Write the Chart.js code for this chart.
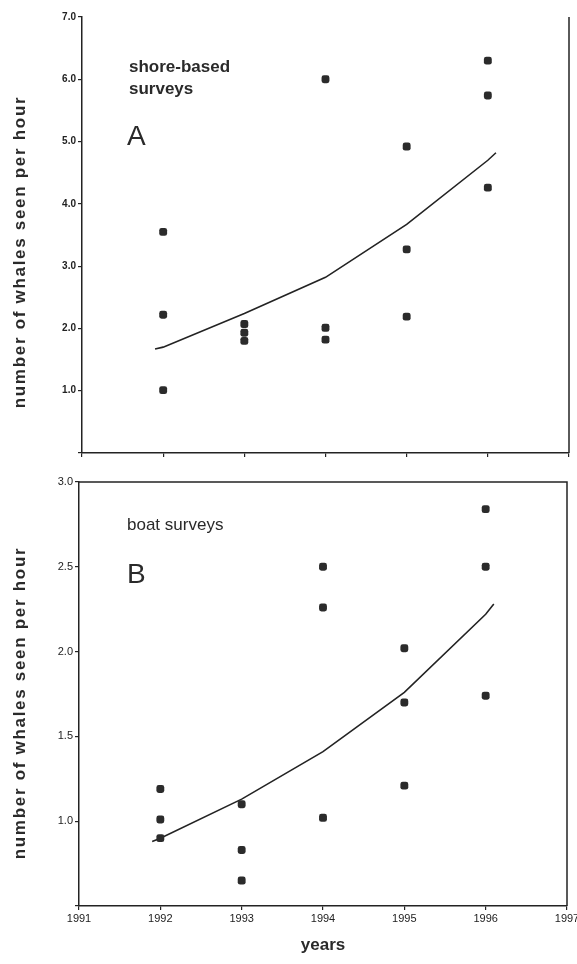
<!DOCTYPE html>
<html>
<head>
<meta charset="utf-8">
<script src="https://cdn.jsdelivr.net/npm/chart.js@4/dist/chart.umd.min.js"></script>
<style>
  html, body { margin: 0; padding: 0; background: #fff; overflow: hidden; width: 577px; height: 964px; }
  canvas { position: absolute; left: 0; }
  #shoreChart { top: 0; }
  #boatChart { top: 470px; }
</style>
</head>
<body>
<canvas id="shoreChart" width="577" height="470"></canvas>
<canvas id="boatChart" width="600" height="494"></canvas>
<script>
// survey years for each observation
const obsYears = [1992, 1992, 1992, 1993, 1993, 1993, 1994, 1994, 1994, 1995, 1995, 1995, 1996, 1996, 1996];

// A: shore-based surveys, whales seen per hour
const shoreRates = [3.55, 2.22, 1.01, 2.07, 1.93, 1.80, 6.00, 2.01, 1.82, 4.92, 3.27, 2.19, 6.30, 5.74, 4.26];
const shoreFitYears = [1991.9, 1992, 1993, 1994, 1995, 1996, 1996.1];
const shoreFitRates = [1.67, 1.70, 2.24, 2.82, 3.67, 4.70, 4.82];

// B: boat surveys
const boatRates = [1.19, 1.01, 0.90, 1.10, 0.83, 0.65, 2.50, 2.26, 1.02, 2.02, 1.70, 1.21, 2.84, 2.50, 1.74];
const boatFitYears = [1991.9, 1992, 1993, 1994, 1995, 1996, 1996.1];
const boatFitRates = [0.88, 0.90, 1.13, 1.41, 1.76, 2.22, 2.28];

const yearTicks = [1991, 1992, 1993, 1994, 1995, 1996, 1997];
const shoreYTicks = [0, 1, 2, 3, 4, 5, 6, 7];
const boatYTicks = [0.5, 1.0, 1.5, 2.0, 2.5, 3.0];

const INK = '#232323';
const FONT = '"Liberation Sans", Arial, sans-serif';
const yTitle = 'number of whales seen per hour';

// right / top frame lines, the in-plot notes and the spaced-out y title
const framePlugin = {
  id: 'frame',
  afterDraw(chart, args, opts) {
    const { ctx, chartArea: a } = chart;
    ctx.save();
    ctx.strokeStyle = INK;
    ctx.lineWidth = 1.5;
    ctx.beginPath();
    ctx.moveTo(a.right, a.bottom);
    ctx.lineTo(a.right, a.top);
    if (opts.topLine) ctx.lineTo(a.left, a.top);
    ctx.stroke();

    ctx.fillStyle = '#2a2a2a';
    ctx.textBaseline = 'middle';
    (opts.notes || []).forEach((n) => {
      ctx.font = n.font;
      ctx.fillText(n.text, n.x, n.y);
    });

    ctx.translate(20, opts.titleY);
    ctx.rotate(-Math.PI / 2);
    ctx.font = 'bold 17px ' + FONT;
    ctx.textAlign = 'center';
    ctx.letterSpacing = '1.7px';
    ctx.fillText(yTitle, 0, 0);
    ctx.restore();
  }
};

function toPoints(xs, ys) {
  return xs.map((x, i) => ({ x: x, y: ys[i] }));
}

function makeChart(id, cfg) {
  const ctx = document.getElementById(id).getContext('2d');
  return new Chart(ctx, {
    type: 'scatter',
    data: {
      datasets: [
        {
          data: toPoints(obsYears, cfg.rates),
          pointStyle: 'rectRounded',
          pointRadius: 4.6,
          backgroundColor: '#2b2b2b',
          borderColor: '#2b2b2b',
          borderWidth: 0,
          clip: false
        },
        {
          type: 'line',
          data: toPoints(cfg.fitYears, cfg.fitRates),
          borderColor: INK,
          borderWidth: 1.6,
          pointRadius: 0,
          tension: 0,
          fill: false
        }
      ]
    },
    options: {
      responsive: false,
      animation: false,
      layout: { padding: cfg.padding },
      plugins: {
        legend: { display: false },
        tooltip: { enabled: false },
        frame: { topLine: cfg.topLine, notes: cfg.notes, titleY: cfg.titleY }
      },
      scales: {
        x: {
          type: 'linear',
          min: 1991,
          max: 1997,
          afterBuildTicks: (scale) => { scale.ticks = yearTicks.map((v) => ({ value: v })); },
          afterFit: (scale) => { scale.height = cfg.xHeight; },
          grid: { display: true, drawOnChartArea: false, drawTicks: true, tickLength: 4, color: INK, lineWidth: 1.2 },
          border: { display: true, color: INK, width: 1.5 },
          ticks: {
            display: cfg.xLabels,
            color: '#222',
            padding: 2,
            maxRotation: 0,
            autoSkip: false,
            font: { family: FONT, size: 11 },
            callback: (v) => String(v)
          },
          title: {
            display: cfg.xLabels,
            text: 'years',
            color: '#2a2a2a',
            padding: { top: 0, bottom: 8 },
            font: { family: FONT, size: 17, weight: 'bold' }
          }
        },
        y: {
          min: cfg.yTicks[0],
          max: cfg.yTicks[cfg.yTicks.length - 1],
          afterBuildTicks: (scale) => { scale.ticks = cfg.yTicks.map((v) => ({ value: v })); },
          afterFit: (scale) => { scale.width = cfg.yWidth; },
          grid: { display: true, drawOnChartArea: false, drawTicks: true, tickLength: 4, color: INK, lineWidth: 1.2 },
          border: { display: true, color: INK, width: 1.5 },
          ticks: {
            color: '#222',
            padding: 2,
            font: { family: FONT, size: cfg.yTickSize, weight: cfg.yTickWeight },
            // the lowest tick carries no label in the original
            callback: (v) => (v === cfg.yTicks[0] ? '' : Number(v).toFixed(1))
          }
        }
      }
    },
    plugins: [framePlugin]
  });
}

makeChart('shoreChart', {
  rates: shoreRates,
  fitYears: shoreFitYears,
  fitRates: shoreFitRates,
  yTicks: shoreYTicks,
  yTickSize: 10,
  yTickWeight: 'bold',
  yWidth: 82,
  xHeight: 17,
  xLabels: false,
  topLine: false,
  titleY: 252,
  padding: { top: 17, right: 8, bottom: 0, left: 0 },
  notes: [
    { text: 'shore-based', x: 129, y: 67, font: 'bold 17px ' + FONT },
    { text: 'surveys', x: 129, y: 89, font: 'bold 17px ' + FONT },
    { text: 'A', x: 127, y: 137, font: '28px ' + FONT }
  ]
});

makeChart('boatChart', {
  rates: boatRates,
  fitYears: boatFitYears,
  fitRates: boatFitRates,
  yTicks: boatYTicks,
  yTickSize: 11,
  yTickWeight: 'normal',
  yWidth: 79,
  xHeight: 58,
  xLabels: true,
  topLine: true,
  titleY: 233,
  padding: { top: 12, right: 33, bottom: 0, left: 0 },
  notes: [
    { text: 'boat surveys', x: 127, y: 55, font: '17px ' + FONT },
    { text: 'B', x: 127, y: 105, font: '28px ' + FONT }
  ]
});
</script>
</body>
</html>
